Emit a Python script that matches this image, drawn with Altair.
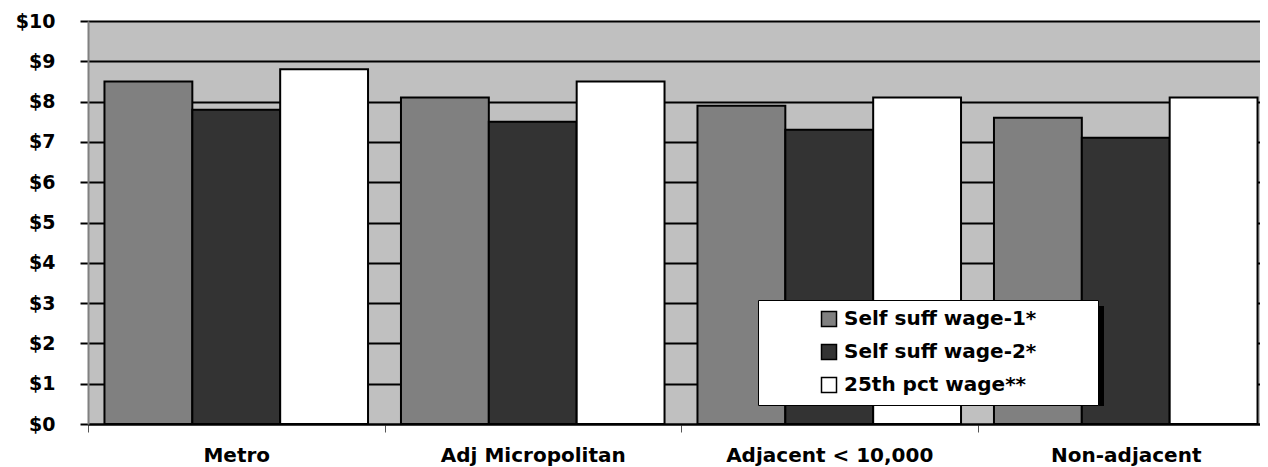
import altair as alt
import pandas as pd

categories = ["Metro", "Adj Micropolitan", "Adjacent < 10,000", "Non-adjacent"]
series = ["Self suff wage-1*", "Self suff wage-2*", "25th pct wage**"]
ssw1 = [8.5, 8.1, 7.9, 7.6]
ssw2 = [7.8, 7.5, 7.3, 7.1]
pct25 = [8.8, 8.5, 8.1, 8.1]
colors = ["#808080", "#333333", "#FFFFFF"]
y_ticks = list(range(0, 11))

rows = []
for vals, s in zip([ssw1, ssw2, pct25], series):
    for c, v in zip(categories, vals):
        rows.append({"category": c, "series": s, "value": v, "shadow": "shadow"})
df = pd.DataFrame(rows)

FONT = "DejaVu Sans"

chart = alt.Chart(df).mark_bar(stroke="black", strokeWidth=2).encode(
    x=alt.X(
        "category:N",
        sort=categories,
        scale=alt.Scale(paddingInner=0, paddingOuter=0, range=[0, 1186]),
        axis=alt.Axis(
            title=None,
            labelAngle=0,
            tickBand="extent",
            tickSize=8,
            tickColor="#555555",
            tickWidth=1,
            domainColor="black",
            domainWidth=2,
            labelFont=FONT,
            labelFontWeight="bold",
            labelFontSize=20,
            labelColor="black",
            labelPadding=13,
            labelLimit=400,
            grid=False,
        ),
    ),
    xOffset=alt.XOffset(
        "series:N",
        sort=series,
        scale=alt.Scale(paddingOuter=0.1875, paddingInner=0),
    ),
    y=alt.Y(
        "value:Q",
        scale=alt.Scale(domain=[0, 10], nice=False),
        axis=alt.Axis(
            title=None,
            values=y_ticks,
            labelExpr="'$' + datum.value",
            tickSize=8,
            tickColor="black",
            tickWidth=2,
            domain=True,
            domainColor="#808080",
            domainWidth=2,
            grid=True,
            gridColor="black",
            gridWidth=2,
            gridOpacity=1,
            labelFont=FONT,
            labelFontWeight="bold",
            labelFontSize=19,
            labelColor="black",
            labelPadding=25,
        ),
    ),
    color=alt.Color(
        "series:N",
        sort=series,
        scale=alt.Scale(domain=series, range=colors),
        legend=alt.Legend(
            orient="none",
            legendX=670,
            legendY=279,
            zindex=2,
            title="\u00a0",
            titleOrient="right",
            titleOpacity=0,
            titlePadding=53,
            padding=9,
            symbolOffset=52,
            fillColor="white",
            strokeColor="black",
            symbolType="square",
            symbolSize=225,
            symbolStrokeColor="black",
            symbolStrokeWidth=1.5,
            labelFont=FONT,
            labelFontWeight="bold",
            labelFontSize=20,
            labelColor="black",
            labelOffset=5,
            labelLimit=400,
            rowPadding=11,
        ),
    ),
    opacity=alt.Opacity(
        "shadow:O",
        scale=alt.Scale(domain=["shadow"], range=[1]),
        legend=alt.Legend(
            orient="none",
            legendX=746,
            legendY=235,
            zindex=1,
            title=None,
            padding=0,
            symbolOffset=0,
            labelExpr="''",
            symbolType="M-1.7,-0.5H1.7V0.5H-1.7Z",
            symbolSize=40000,
            symbolFillColor="black",
            symbolStrokeColor="black",
            symbolStrokeWidth=0,
            labelFontSize=1,
        ),
    ),
).properties(
    width=1172,
    height=403,
    autosize=alt.AutoSizeParams(type="none"),
    padding={"left": 80, "top": 13, "right": 0, "bottom": 44},
).configure_view(
    fill="#C0C0C0",
    stroke=None,
    strokeWidth=0,
)

chart.save("out.html", embed_options={"renderer": "svg", "actions": False})
